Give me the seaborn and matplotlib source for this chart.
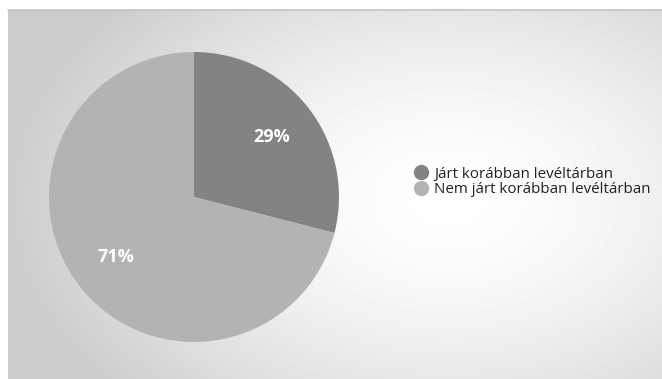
import numpy as np
import matplotlib
matplotlib.use("Agg")
import matplotlib.pyplot as plt
from matplotlib.lines import Line2D
import seaborn as sns

categories = ["Járt korábban levéltárban", "Nem járt korábban levéltárban"]
shares = [29, 71]
slice_colors = ["#838383", "#b3b3b3"]

sns.set_theme(style="white")
plt.rcParams["font.family"] = ["Open Sans", "DejaVu Sans"]

W, H = 662, 379
fig = plt.figure(figsize=(W / 100, H / 100), dpi=100)
fig.patch.set_facecolor("white")

# Radial gradient panel behind the chart
bg = fig.add_axes([8 / W, 0, (W - 8) / W, (H - 10) / H])
nx, ny = 654, 369
xx, yy = np.meshgrid(np.arange(nx), np.arange(ny))
cx, cy = 440, 190
d = np.sqrt(((xx - cx) / 440) ** 2 + ((yy - cy) / 290) ** 2)
shade = 1.0 - 0.2 * np.clip(d, 0, 1.0) ** 1.6
bg.imshow(shade, cmap="gray", vmin=0, vmax=1, aspect="auto",
          interpolation="bilinear")
bg.set_axis_off()
fig.add_artist(Line2D([8 / W, 1], [(H - 10) / H] * 2, color="#c4c4c4", lw=1.2))

# Pie
ax = fig.add_axes([49 / W, 37 / H, 290 / W, 290 / H])
wedges, texts, autotexts = ax.pie(
    shares, colors=slice_colors, startangle=90, counterclock=False,
    autopct="%d%%", pctdistance=0.68, radius=1,
    wedgeprops=dict(linewidth=0),
    textprops=dict(color="white", fontsize=13, fontweight="bold"),
)
ax.set_xlim(-1, 1)
ax.set_ylim(-1, 1)
ax.set_aspect("equal")
ax.set_axis_off()

handles = [Line2D([0], [0], marker="o", linestyle="", markersize=10,
                  markerfacecolor=c, markeredgecolor=c) for c in slice_colors]
fig.legend(handles, categories, loc="center left",
           bbox_to_anchor=(404 / W, 1 - 182 / H), frameon=False,
           fontsize=10.9, labelcolor="#222222", handletextpad=0.3,
           labelspacing=0.05, borderpad=0, handlelength=1.2)

fig.savefig("out.png", dpi=100)
